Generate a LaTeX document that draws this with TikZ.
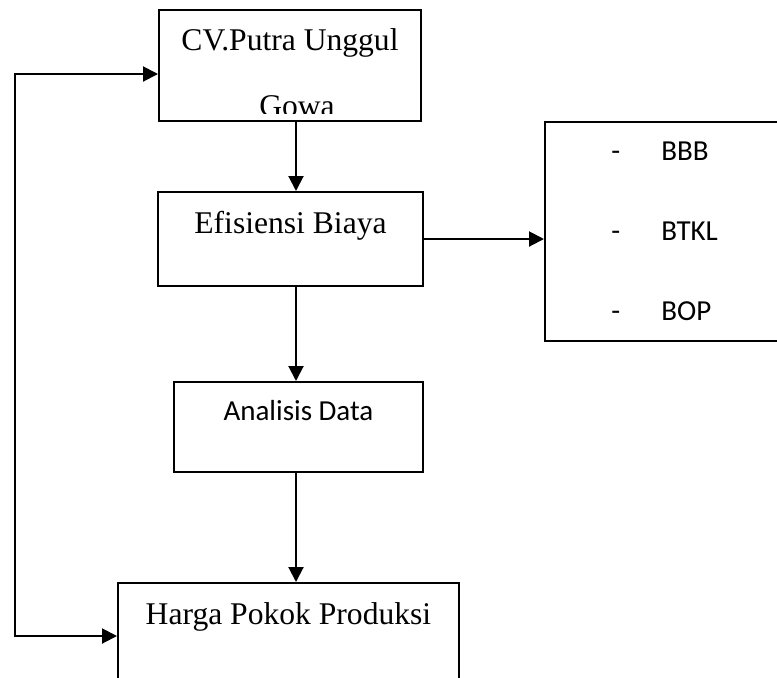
\documentclass[tikz,border=0pt]{standalone}
\usepackage{fontspec}
\setmainfont{Liberation Serif}
\newfontfamily\calibri{Carlito}
\usetikzlibrary{arrows.meta}

\begin{document}
\begin{tikzpicture}[x=0.5pt,y=-0.5pt]
        \tikzset{box/.style = {shape=rectangle,draw,line width=1pt,inner sep=0pt}}
        \tikzset{serif/.style = {font=\fontsize{15.8pt}{19pt}\selectfont}}
        \tikzset{sans/.style = {font=\calibri\fontsize{14.5pt}{17pt}\selectfont}}
        \tikzset{edge/.style = {->,> = {Triangle[length=7.5pt,width=7.5pt]},line width=1pt}}
        \clip (0,0) rectangle (777,677);
        \node[box,serif,minimum width=131pt,text height=20pt,text depth=35.5pt] (cv) at (290,65.5) {CV.Putra Unggul};
        \begin{scope}
          \clip (cv.north west) rectangle ([yshift=4.5pt]cv.south east);
          \node[serif,anchor=base,inner sep=0pt] (gowa) at (297,116) {Gowa};
        \end{scope}
        \node[box,serif,minimum width=132.5pt,text height=20.5pt,text depth=26.5pt] (eff) at (290.5,239) {Efisiensi Biaya};
        \node[box,sans,minimum width=124.5pt,text height=19pt,text depth=26pt] (ana) at (298.5,427) {Analisis Data};
        \node[box,serif,minimum width=170.5pt,text height=20.5pt,text depth=39.5pt] (harga) at (288.5,643) {Harga Pokok Produksi};
        \node[box,minimum width=127.5pt,minimum height=109.5pt] (cost) at (672.5,231.5) {};
        \foreach \kind/\y in {BBB/160,BTKL/240,BOP/320}
          \node[sans,anchor=base west,inner sep=0pt] (\kind) at (611,\y) {\makebox[25pt][l]{-}\kind};
        \coordinate (spine) at (296,0);
        \coordinate (fbtop) at (15,74);
        \coordinate (fbbot) at (15,636);
        \draw[edge] (cv.south -| spine) to (eff.north -| spine);
        \draw[edge] (eff.south -| spine) to (ana.north -| spine);
        \draw[edge] (ana.south -| spine) to (harga.north -| spine);
        \draw[edge] (eff.east) to (eff.east -| cost.west);
        \draw[edge,<->] (cv.west |- fbtop) -- (fbtop) -- (fbbot) -- (harga.west |- fbbot);
      \end{tikzpicture}
\end{document}
